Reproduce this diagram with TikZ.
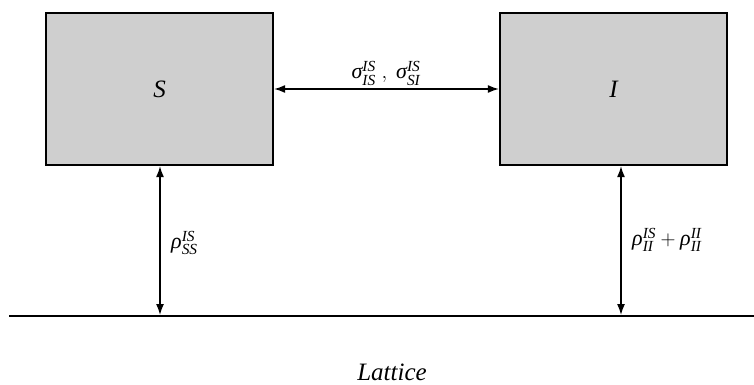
\documentclass[tikz,border=0pt]{standalone}
\usepackage{amsmath}
\usepackage{fontspec}
\setmainfont{Liberation Serif}
\usetikzlibrary{arrows.meta,calc}
\definecolor{boxgray}{HTML}{CFCFCF}
\begin{document}
\begin{tikzpicture}[x=1pt,y=-1pt,
  statebox/.style={draw=black,line width=2.2pt,fill=boxgray,minimum width=227pt,minimum height=152pt,inner sep=0pt,font=\fontsize{25}{29}\selectfont\itshape},
  link/.style={line width=1.5pt,{Latex[length=11pt,width=8pt]}-{Latex[length=11pt,width=8pt]}},
  lbl/.style={font=\fontsize{22}{26}\selectfont,inner sep=0pt}]
\useasboundingbox (0,0) rectangle (754,385);
\node[statebox] (S) at (159.5,89) {S};
\node[statebox] (I) at (613.5,89) {I};
\coordinate (LL) at (9,316);
\coordinate (LR) at (754,316);
\coordinate (L1) at (160,315);
\coordinate (L2) at (621,315);
\draw[line width=2.2pt] (LL) -- (LR);
\draw[link] (S.east) -- (I.west);
\draw[link] (S.south -| L1) -- (L1);
\draw[link] (I.south -| L2) -- (L2);
\node[lbl,anchor=base] (sig) at (386,79) {$\textit{σ}^{\textit{IS}}_{\textit{IS}}\;,\ \textit{σ}^{\textit{IS}}_{\textit{SI}}$};
\node[lbl,anchor=west] (rs) at (171,243) {$\textit{ρ}^{\textit{IS}}_{\textit{SS}}$};
\node[lbl,anchor=west] (ri) at (632,240) {$\textit{ρ}^{\textit{IS}}_{\textit{II}}+\textit{ρ}^{\textit{II}}_{\textit{II}}$};
\node[anchor=base,inner sep=0pt,font=\fontsize{25}{29}\selectfont\itshape] (lat) at (392,380) {Lattice};
\end{tikzpicture}
\end{document}
